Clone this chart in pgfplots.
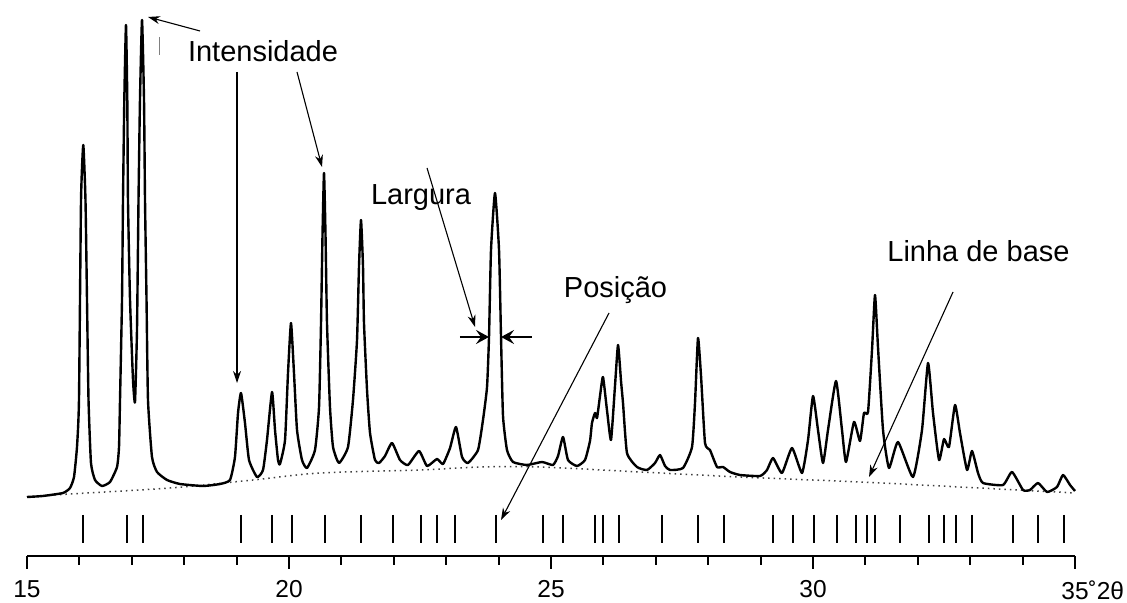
\documentclass[border=0pt]{standalone}
\usepackage{fontspec}
\setmainfont{Liberation Sans}
\usepackage{pgfplots}
\pgfplotsset{compat=1.18}
\usetikzlibrary{arrows.meta}
\begin{document}
\begin{tikzpicture}
\begin{axis}[
  at={(13.5pt,23.5pt)}, anchor=south west,
  scale only axis, width=524pt, height=278pt,
  xmin=15, xmax=35, ymin=0, ymax=556,
  clip=false,
  axis x line*=bottom, axis y line=none,
  x axis line style={-, line width=1pt},
  xtick={15,20,25,30,35},
  xticklabels={15,20,25,30,{35\rlap{\raisebox{-0.5pt}{˚}2θ}}},
  minor xtick={16,17,18,19,21,22,23,24,26,27,28,29,31,32,33,34},
  xtick align=outside,
  major tick length=6.5pt, minor tick length=4.5pt,
  every tick/.style={black, line width=1pt},
  xticklabel style={font=\fontsize{12.25pt}{14pt}\selectfont, inner sep=1pt, yshift=-4.5pt},
]
% baseline (dotted)
\addplot[black!75, dotted, line width=0.75pt, smooth] coordinates {
 (15.000,59) (15.821,62) (17.729,68) (19.313,76) (20.592,83) (22.500,86) (23.645,89)
 (24.790,89) (26.698,84) (28.607,79) (30.897,74) (32.805,69) (35.000,63)};
% diffraction profile
\addplot[black, line width=1.2pt, line join=round, smooth, tension=0.3] coordinates {
 (15.000,59) (15.300,60) (15.687,63) (15.821,68) (15.897,79) (15.954,109) (15.992,156)
 (16.031,356) (16.074,411) (16.116,356) (16.145,256) (16.174,156) (16.221,93) (16.298,76)
 (16.431,70) (16.584,74) (16.718,89) (16.756,109) (16.775,156) (16.813,256) (16.832,356)
 (16.857,456) (16.889,531) (16.914,456) (16.927,356) (16.966,256) (17.023,176) (17.061,154)
 (17.099,226) (17.128,356) (17.156,456) (17.195,536) (17.233,456) (17.252,356) (17.281,256)
 (17.309,156) (17.385,99) (17.481,84) (17.672,76) (17.920,72) (18.359,70) (18.683,72)
 (18.874,76) (18.969,99) (19.027,143) (19.084,163) (19.160,133) (19.237,96) (19.389,79)
 (19.504,86) (19.580,116) (19.676,164) (19.733,126) (19.790,96) (19.828,92) (19.924,116)
 (19.981,183) (20.038,233) (20.095,183) (20.153,126) (20.248,96) (20.344,88) (20.496,106)
 (20.573,149) (20.611,233) (20.639,320) (20.668,383) (20.697,320) (20.725,233) (20.782,149)
 (20.840,109) (20.954,93) (21.126,109) (21.221,156) (21.298,216) (21.336,290) (21.374,336)
 (21.412,290) (21.431,233) (21.489,166) (21.546,123) (21.641,96) (21.718,93) (21.832,100)
 (21.966,113) (22.118,96) (22.271,91) (22.481,105) (22.634,90) (22.824,97) (22.939,92)
 (23.073,108) (23.187,129) (23.302,99) (23.416,93) (23.607,106) (23.702,136) (23.779,169)
 (23.817,219) (23.855,306) (23.931,363) (24.008,306) (24.046,219) (24.084,140) (24.160,106)
 (24.275,94) (24.542,91) (24.828,94) (25.038,91) (25.134,100) (25.229,119) (25.324,96)
 (25.496,90) (25.649,96) (25.744,115) (25.782,133) (25.840,143) (25.878,138) (25.935,160)
 (25.992,179) (26.070,145) (26.145,116) (26.221,170) (26.279,211) (26.336,175) (26.374,153)
 (26.450,103) (26.641,89) (26.832,86) (26.985,93) (27.080,101) (27.176,90) (27.271,86)
 (27.519,88) (27.691,109) (27.748,153) (27.805,218) (27.863,180) (27.939,113) (28.034,106)
 (28.168,89) (28.282,89) (28.416,84) (28.607,81) (28.989,80) (29.122,86) (29.237,98)
 (29.408,83) (29.599,108) (29.790,83) (29.905,116) (30.000,160) (30.095,126) (30.191,93)
 (30.286,126) (30.439,175) (30.553,126) (30.630,94) (30.782,134) (30.897,115) (30.973,143)
 (31.050,144) (31.126,206) (31.183,261) (31.240,209) (31.336,126) (31.450,88) (31.622,114)
 (31.908,79) (32.080,126) (32.195,193) (32.290,143) (32.405,96) (32.500,117) (32.595,109)
 (32.710,151) (32.805,123) (32.939,86) (33.034,105) (33.149,83) (33.244,73) (33.626,71)
 (33.798,84) (34.008,66) (34.141,66) (34.294,73) (34.466,64) (34.656,69) (34.771,81)
 (34.905,71) (35.000,65)};
% reflection positions
\addplot[black, only marks, mark=|, mark size=7pt, mark options={line width=0.7pt}] coordinates {
 (16.069,27) (16.908,27) (17.214,27) (19.084,27) (19.676,27) (20.057,27) (20.687,27)
 (21.374,27) (21.985,27) (22.519,27) (22.824,27) (23.168,27) (23.950,27) (24.847,27)
 (25.229,27) (25.840,27) (25.992,27) (26.298,27) (27.118,27) (27.805,27) (28.302,27)
 (29.237,27) (29.618,27) (30.019,27) (30.458,27) (30.821,27) (31.031,27) (31.183,27)
 (31.660,27) (32.214,27) (32.500,27) (32.729,27) (33.034,27) (33.817,27) (34.294,27)
 (34.790,27)};
% annotations
\tikzset{ann/.style={black, line width=0.55pt, -{Stealth[length=6pt,width=4pt]}},
         lab/.style={font=\fontsize{14.5pt}{17pt}\selectfont, anchor=base, inner sep=0pt}}
\node[lab] at (axis cs:19.504,494) {Intensidade};
\node[lab] at (axis cs:22.519,351) {Largura};
\node[lab] at (axis cs:26.231,258) {Posição};
\node[lab] at (axis cs:33.158,294) {Linha de base};
\draw[ann] (axis cs:18.302,525) -- (axis cs:17.309,539);
\draw[gray, line width=0.5pt] (axis cs:17.538,519) -- (axis cs:17.538,501);
\draw[ann] (axis cs:19.008,484) -- (axis cs:19.008,173);
\draw[ann] (axis cs:20.153,484) -- (axis cs:20.630,389);
\draw[ann] (axis cs:22.634,388) -- (axis cs:23.550,229);
\draw[black, line width=1pt, -{Stealth[length=6.5pt,width=7pt,inset=2.5pt]}] (axis cs:23.263,219) -- (axis cs:23.817,219);
\draw[black, line width=1pt, -{Stealth[length=6.5pt,width=7pt,inset=2.5pt]}] (axis cs:24.637,219) -- (axis cs:24.046,219);
\draw[ann] (axis cs:26.107,243) -- (axis cs:24.046,36);
\draw[ann] (axis cs:32.672,264) -- (axis cs:31.069,79);
\end{axis}
\pgfresetboundingbox
\useasboundingbox (0,0) rectangle (563.5pt,301.5pt);
\end{tikzpicture}
\end{document}
